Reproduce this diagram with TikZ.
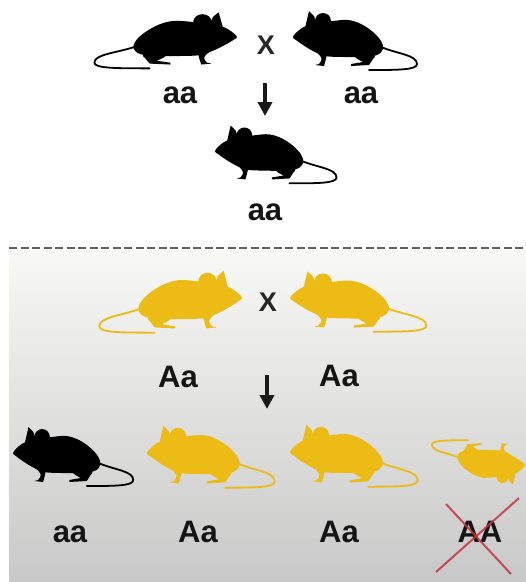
\documentclass[tikz,border=0pt]{standalone}
\usepackage{fontspec}
\setmainfont{Liberation Sans}
\usetikzlibrary{arrows.meta}

\definecolor{mousegold}{RGB}{236,187,22}
\definecolor{crossred}{RGB}{196,52,62}
\definecolor{dashgray}{RGB}{95,95,95}

% a mouse facing left, nose at the origin, y pointing down
\tikzset{
  pics/mouse/.style={code={
    \fill[#1] plot[smooth cycle, tension=0.6] coordinates {
      (0,0) (5,-6) (13,-11) (26,-14) (40,-16) (55,-17) (68,-13) (80,-5)
      (88,4) (90,12) (84,18) (70,20) (50,20) (32,19) (20,14) (10,8) (3,3)};
    % ears
    \fill[#1] (12,-9) -- (16,-26) -- (21,-21) -- (24,-12) -- cycle;
    \fill[#1] (30,-16) circle[radius=8];
    % legs
    \fill[#1] (22,13) .. controls (30,22) .. (26,27) -- (22,28) -- (31,29)
      .. controls (33,22) .. (34,17) -- cycle;
    \fill[#1] (60,12) .. controls (78,10) and (86,18) .. (80,22) -- (76,28)
      -- (58,29) -- (58,27) -- (70,25) .. controls (64,22) .. (60,18) -- cycle;
    % tail
    \draw[#1, line width=1.8pt, line cap=round] (88,10)
      .. controls (105,17) and (124,18) .. (124,27)
      .. controls (124,33) and (105,33) .. (76,33);
  }}
}

\begin{document}
\begin{tikzpicture}[
  x=1pt, y=-1pt,
  genotype/.style={font=\fontsize{31}{31}\selectfont\bfseries, text=black!92,
                   anchor=base, inner sep=0pt},
  crosssign/.style={font=\fontsize{27}{27}\selectfont\bfseries, text=black!85,
                    inner sep=0pt},
  descent/.style={line width=4pt, black!90, -{Triangle[width=14pt,length=14pt]}}
]
\useasboundingbox (0,0) rectangle (526,582);
\fill[white] (0,0) rectangle (526,582);
\shade[top color={rgb,255:red,248;green,248;blue,246},
       bottom color={rgb,255:red,200;green,200;blue,200}] (9,250) rectangle (526,582);
\draw[dashgray, line width=2pt, dash pattern=on 8pt off 3.5pt] (9,248) -- (526,248);

% recessive parents and their offspring
\pic[xscale=-1.15, yscale=0.95] at (237,37) {mouse=black};
\pic at (293,37) {mouse=black};
\pic[scale=0.98] at (215,151) {mouse=black};
\node[crosssign] (topcross) at (266,45) {X};
\node[genotype] (topmother) at (180,103) {aa};
\node[genotype] (topfather) at (361,103) {aa};
\node[genotype] (topchild) at (265,220) {aa};
\coordinate (topfrom) at (265,83);
\coordinate (topto) at (265,116);
\draw[descent] (topfrom) -- (topto);

% heterozygous parents
\pic[xscale=-1.15, yscale=1.05] at (242,298) {mouse=mousegold};
\pic[xscale=1.1, yscale=1.02] at (290,298) {mouse=mousegold};
\node[crosssign] (lowcross) at (268,302) {X};
\node[genotype] (lowmother) at (178,387) {Aa};
\node[genotype] (lowfather) at (339,386) {Aa};
\coordinate (lowfrom) at (267,375);
\coordinate (lowto) at (267,409);
\draw[descent] (lowfrom) -- (lowto);

% offspring
\pic[xscale=0.97, yscale=1.0] at (13,453) {mouse=black};
\pic[xscale=1.03, yscale=1.05] at (147,453) {mouse=mousegold};
\pic[xscale=1.03, yscale=1.05] at (290,452) {mouse=mousegold};
\pic[rotate=180, scale=0.75] at (525,465) {mouse=mousegold};
\node[genotype] (kidaa) at (70,542) {aa};
\node[genotype] (kidAa) at (198,542) {Aa};
\node[genotype] (kidAb) at (339,542) {Aa};
\node[genotype] (kidAA) at (480,542) {AA};
\draw[crossred, opacity=0.85, line width=2pt] (446,504) -- (511,574);
\draw[crossred, opacity=0.85, line width=2pt] (519,498) -- (436,572);
\end{tikzpicture}
\end{document}
